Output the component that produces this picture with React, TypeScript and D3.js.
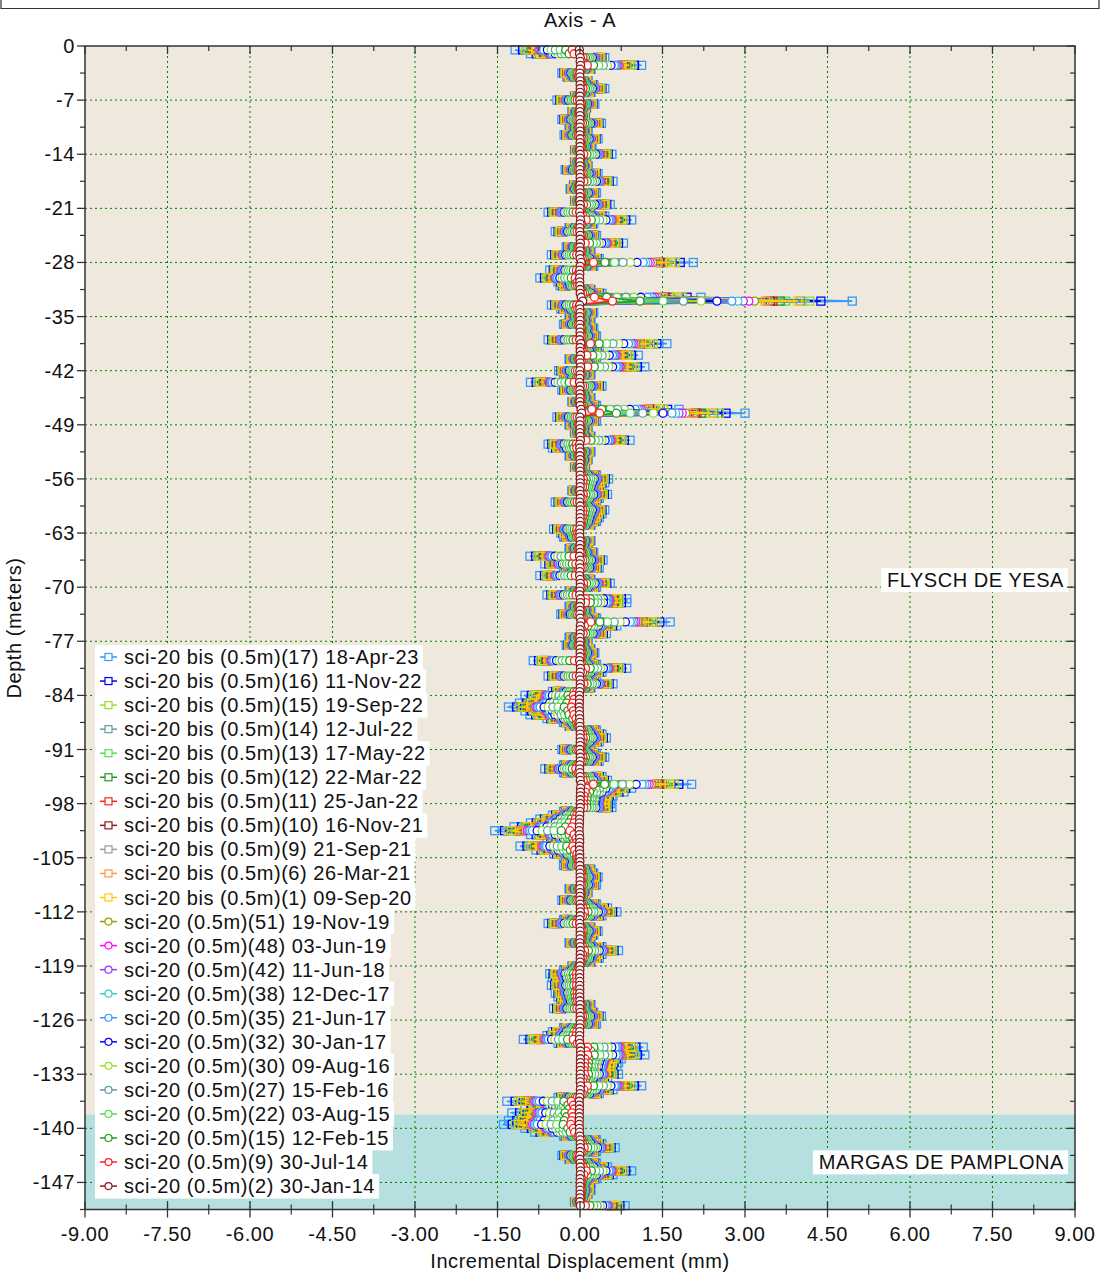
import * as d3 from 'd3';
import { useEffect, useRef } from 'react';

// readings, newest first (legend order)
const seriesNames = [
  'sci-20 bis (0.5m)(17) 18-Apr-23',
  'sci-20 bis (0.5m)(16) 11-Nov-22',
  'sci-20 bis (0.5m)(15) 19-Sep-22',
  'sci-20 bis (0.5m)(14) 12-Jul-22',
  'sci-20 bis (0.5m)(13) 17-May-22',
  'sci-20 bis (0.5m)(12) 22-Mar-22',
  'sci-20 bis (0.5m)(11) 25-Jan-22',
  'sci-20 bis (0.5m)(10) 16-Nov-21',
  'sci-20 bis (0.5m)(9) 21-Sep-21',
  'sci-20 bis (0.5m)(6) 26-Mar-21',
  'sci-20 bis (0.5m)(1) 09-Sep-20',
  'sci-20 (0.5m)(51) 19-Nov-19',
  'sci-20 (0.5m)(48) 03-Jun-19',
  'sci-20 (0.5m)(42) 11-Jun-18',
  'sci-20 (0.5m)(38) 12-Dec-17',
  'sci-20 (0.5m)(35) 21-Jun-17',
  'sci-20 (0.5m)(32) 30-Jan-17',
  'sci-20 (0.5m)(30) 09-Aug-16',
  'sci-20 (0.5m)(27) 15-Feb-16',
  'sci-20 (0.5m)(22) 03-Aug-15',
  'sci-20 (0.5m)(15) 12-Feb-15',
  'sci-20 (0.5m)(9) 30-Jul-14',
  'sci-20 (0.5m)(2) 30-Jan-14',
];

const seriesColors = [
  '#3399ff', '#0000ff', '#99dd22', '#5f9ea0', '#55dd55', '#229922', '#ff2020', '#8b1a1a',
  '#999999', '#ff9933', '#ffcc00', '#999900', '#ff00ff', '#9933ff', '#33cccc', '#3399ff',
  '#0000ff', '#99dd22', '#5f9ea0', '#55dd55', '#229922', '#ff2020', '#8b1a1a',
];

const seriesMarkers = [
  'square', 'square', 'square', 'square', 'square', 'square', 'square', 'square', 'square', 'square', 'square',
  'circle', 'circle', 'circle', 'circle', 'circle', 'circle', 'circle', 'circle', 'circle', 'circle', 'circle', 'circle',
];

// displacement of each reading at the -33 m shear zone (mm)
const peakAt33 = [
  4.95, 4.38, 4.18, 4.01, 3.74, 3.64, 3.51, 3.46, 3.42, 3.37, 3.96,
  3.17, 3.07, 2.97, 2.87, 2.76, 2.49, 2.2, 1.88, 1.51, 1.09, 0.59, 0.05,
];

// profile of the latest reading, every 0.5 m from -0.5 to -150 m (mm)
const profile = [
  -1.18, -0.9, 0.45, 0.3, 1.12, 0.2, -0.33, -0.24, 0.15, 0.25,
  0.45, 0.2, -0.1, -0.42, 0.27, 0.12, -0.15, 0.1, -0.33, 0.39,
  -0.2, 0.15, -0.29, 0.33, 0.1, 0.22, -0.1, 0.58, 0.12, -0.1,
  0.15, -0.27, 0.33, 0.2, 0.6, -0.12, -0.18, 0.3, 0.1, -0.1,
  0.55, 0.2, -0.58, 0.45, 0.94, 0.25, -0.2, -0.45, 0.3, 0.15,
  0.79, -0.25, 0.2, -0.52, 0.35, 2.06, 0.25, -0.55, -0.3, -0.73,
  -0.4, -0.36, 0.2, 0.4, 2.2, 4.95, -0.52, -0.35, 0.25, -0.2,
  0.2, -0.3, 0.25, 0.1, 0.3, -0.58, 1.58, 0.25, 0.35, 1.06,
  -0.2, 0.3, 1.18, -0.39, 0.2, -0.3, -0.9, 0.4, -0.33, 0.15,
  0.2, -0.15, 0.3, 1.8, 3.0, -0.42, 0.3, -0.2, 0.15, -0.1,
  0.2, 0.91, -0.58, -0.5, 0.2, -0.2, 0.15, 0.1, -0.1, 0.1,
  0.3, 0.52, 0.45, 0.4, -0.15, 0.5, 0.35, -0.45, 0.3, 0.45,
  0.4, 0.35, 0.3, 0.2, -0.48, -0.35, -0.3, 0.2, 0.15, -0.2,
  0.25, -0.91, 0.42, -0.64, 0.35, -0.3, -0.73, 0.2, 0.55, 0.3,
  -0.2, -0.6, 0.85, 0.85, -0.2, 0.2, -0.35, 0.3, 1.64, 0.67,
  0.3, 0.48, -0.2, 0.15, -0.25, 0.2, 0.27, 0.2, -0.85, 0.3,
  0.85, 0.4, -0.58, 0.3, 0.6, 0.2, -0.5, -1.0, -0.9, -1.1,
  -1.3, -1.0, -0.91, -0.6, -0.3, -0.2, 0.3, 0.4, 0.48, 0.35,
  0.2, -0.33, 0.3, 0.45, 0.35, -0.3, -0.64, -0.3, 0.4, 0.5,
  2.03, 0.94, 0.8, 0.6, 0.58, 0.55, 0.58, -0.3, -0.5, -0.73,
  -0.9, -1.2, -1.55, -0.9, -0.6, -0.5, -1.09, -0.8, -0.48, -0.3,
  -0.25, -0.3, 0.2, 0.25, 0.33, 0.2, 0.3, -0.2, 0.15, 0.1,
  -0.33, 0.3, 0.5, 0.67, 0.4, -0.3, -0.58, 0.2, 0.33, 0.25,
  0.2, -0.2, 0.4, 0.7, 0.4, 0.35, 0.2, -0.15, -0.3, -0.55,
  -0.5, -0.45, -0.52, -0.3, -0.45, -0.4, -0.35, 0.2, -0.48, 0.25,
  0.39, 0.2, 0.3, -0.3, -0.5, -0.6, -1.03, -0.4, 1.15, 0.9,
  1.18, 0.75, 0.7, 0.67, 0.6, 0.7, 0.5, 0.45, 1.12, 0.6,
  0.35, -0.4, -1.33, -1.0, -0.9, -1.24, -1.1, -1.3, -1.39, -1.0,
  -0.82, -0.3, 0.3, 0.4, 0.64, 0.3, -0.33, -0.2, 0.3, 0.5,
  0.94, 0.6, 0.3, 0.2, 0.15, 0.2, 0.15, 0.1, -0.1, 0.82,
];

const xTicks = [-9, -7.5, -6, -4.5, -3, -1.5, 0, 1.5, 3, 4.5, 6, 7.5, 9];
const yTicks = [0, -7, -14, -21, -28, -35, -42, -49, -56, -63, -70, -77, -84, -91, -98, -105, -112, -119, -126, -133, -140, -147];

const layerNames = ['FLYSCH DE YESA', 'MARGAS DE PAMPLONA'];
const layerTops = [0, -138.2];
const layerBottoms = [-138.2, -150.5];
const layerColors = ['#efe9dd', '#b5e0df'];
const layerLabelDepths = [-69.1, -144.4];

const FONT = '"Liberation Sans", Arial, sans-serif';
const FS = '20px';
const LS = '0.55px';

const App = () => {
  const ref = useRef<SVGSVGElement>(null);

  useEffect(() => {
    const width = 1100;
    const height = 1274;
    const left = 85, right = 1075, top = 46, bottom = 1209.5;

    const svg: any = d3.select(ref.current);
    svg.selectAll('*').remove();
    svg.attr('width', width).attr('height', height);

    const x = d3.scaleLinear().domain([-9, 9]).range([left, right]);
    const y = d3.scaleLinear().domain([0, -150.5]).range([top, bottom]);

    svg.append('rect').attr('width', width).attr('height', height).attr('fill', '#fff');

    // frame at very top
    svg.append('path').attr('d', 'M1,0V8.5H1099V0').attr('fill', 'none').attr('stroke', '#333').attr('stroke-width', 1.2);

    // layers
    layerNames.forEach((_, i) => {
      svg.append('rect')
        .attr('x', left).attr('width', right - left)
        .attr('y', y(layerTops[i])).attr('height', y(layerBottoms[i]) - y(layerTops[i]))
        .attr('fill', layerColors[i]);
    });

    // grid
    const grid = svg.append('g').attr('stroke', '#008000').attr('stroke-width', 1).attr('stroke-dasharray', '2,3');
    xTicks.slice(1, -1).forEach((t) => {
      grid.append('line').attr('x1', x(t)).attr('x2', x(t)).attr('y1', top).attr('y2', bottom);
    });
    yTicks.slice(1).forEach((t) => {
      grid.append('line').attr('x1', left).attr('x2', right).attr('y1', y(t)).attr('y2', y(t));
    });

    // layer labels
    layerNames.forEach((name, i) => {
      const g = svg.append('g');
      const box = g.append('rect').attr('fill', '#fff');
      const txt = g.append('text')
        .attr('x', 1064).attr('y', y(layerLabelDepths[i]))
        .attr('text-anchor', 'end').attr('dominant-baseline', 'central')
        .style('font-family', FONT).style('font-size', FS).style('letter-spacing', LS).attr('fill', '#111')
        .text(name);
      const bb = txt.node().getBBox();
      box.attr('x', bb.x - 6).attr('y', bb.y - 1).attr('width', bb.width + 10).attr('height', bb.height + 2);
    });

    // series
    const depths = profile.map((_, i) => -(i + 1) * 0.5);
    const line = d3.line<number>().x((d) => x(d)).y((_, i) => y(depths[i]));
    const plot = svg.append('g');
    seriesNames.forEach((_, s) => {
      const k = peakAt33[s] / peakAt33[0];
      const vals = profile.map((v) => v * k);
      const g = plot.append('g');
      g.append('path').attr('d', line(vals)).attr('fill', 'none')
        .attr('stroke', seriesColors[s]).attr('stroke-width', 1.6);
      if (seriesMarkers[s] === 'square') {
        g.selectAll('rect').data(vals).enter().append('rect')
          .attr('x', (d: number) => x(d) - 4).attr('y', (_: any, i: number) => y(depths[i]) - 4)
          .attr('width', 8).attr('height', 8)
          .attr('fill', 'none').attr('stroke', seriesColors[s]).attr('stroke-width', 1.3);
      } else {
        g.selectAll('circle').data(vals).enter().append('circle')
          .attr('cx', (d: number) => x(d)).attr('cy', (_: any, i: number) => y(depths[i]))
          .attr('r', 4)
          .attr('fill', '#fff').attr('stroke', seriesColors[s]).attr('stroke-width', 1.3);
      }
    });

    // frame + ticks
    const axis = svg.append('g').attr('stroke', '#333');
    axis.append('rect').attr('x', left).attr('y', top).attr('width', right - left).attr('height', bottom - top)
      .attr('fill', 'none').attr('stroke-width', 1.5);
    const xMinor = xTicks.slice(0, -1).map((t) => t + 0.75);
    xTicks.forEach((t) => {
      axis.append('line').attr('x1', x(t)).attr('x2', x(t)).attr('y1', top).attr('y2', top + 8).attr('stroke-width', 1.3);
      axis.append('line').attr('x1', x(t)).attr('x2', x(t)).attr('y1', bottom - 8).attr('y2', bottom + 8).attr('stroke-width', 1.3);
    });
    xMinor.forEach((t) => {
      axis.append('line').attr('x1', x(t)).attr('x2', x(t)).attr('y1', top).attr('y2', top + 5).attr('stroke-width', 1.2);
      axis.append('line').attr('x1', x(t)).attr('x2', x(t)).attr('y1', bottom - 5).attr('y2', bottom + 5).attr('stroke-width', 1.2);
    });
    const yMinor = yTicks.map((t) => t - 3.5);
    yTicks.forEach((t) => {
      axis.append('line').attr('x1', left - 8).attr('x2', left).attr('y1', y(t)).attr('y2', y(t)).attr('stroke-width', 1.3);
      axis.append('line').attr('x1', right - 8).attr('x2', right).attr('y1', y(t)).attr('y2', y(t)).attr('stroke-width', 1.3);
    });
    yMinor.forEach((t) => {
      axis.append('line').attr('x1', left - 5).attr('x2', left).attr('y1', y(t)).attr('y2', y(t)).attr('stroke-width', 1.2);
      axis.append('line').attr('x1', right - 5).attr('x2', right).attr('y1', y(t)).attr('y2', y(t)).attr('stroke-width', 1.2);
    });

    // tick labels
    const labels = svg.append('g').style('font-family', FONT).style('font-size', FS)
      .style('letter-spacing', LS).attr('fill', '#111');
    xTicks.forEach((t) => {
      labels.append('text').attr('x', x(t)).attr('y', bottom + 24)
        .attr('text-anchor', 'middle').attr('dominant-baseline', 'central').text(t.toFixed(2));
    });
    yTicks.forEach((t) => {
      labels.append('text').attr('x', 75).attr('y', y(t))
        .attr('text-anchor', 'end').attr('dominant-baseline', 'central').text(String(t));
    });
    labels.append('text').attr('x', 580).attr('y', 20).attr('text-anchor', 'middle')
      .attr('dominant-baseline', 'central').text('Axis - A');
    labels.append('text').attr('x', 580).attr('y', 1261).attr('text-anchor', 'middle')
      .attr('dominant-baseline', 'central').text('Incremental Displacement (mm)');
    labels.append('text').attr('transform', 'translate(14,628) rotate(-90)').attr('text-anchor', 'middle')
      .attr('dominant-baseline', 'central').text('Depth (meters)');

    // legend
    const legend = svg.append('g');
    seriesNames.forEach((name, i) => {
      const cy = 657 + i * 24.05;
      const row = legend.append('g');
      const bg = row.append('rect').attr('fill', '#fff');
      row.append('line').attr('x1', 100).attr('x2', 117).attr('y1', cy).attr('y2', cy)
        .attr('stroke', seriesColors[i]).attr('stroke-width', 1.5);
      if (seriesMarkers[i] === 'square') {
        row.append('rect').attr('x', 105).attr('y', cy - 3.5).attr('width', 7).attr('height', 7)
          .attr('fill', '#fff').attr('stroke', seriesColors[i]).attr('stroke-width', 1.2);
      } else {
        row.append('circle').attr('cx', 108.5).attr('cy', cy).attr('r', 3.5)
          .attr('fill', '#fff').attr('stroke', seriesColors[i]).attr('stroke-width', 1.2);
      }
      const txt = row.append('text').attr('x', 124).attr('y', cy)
        .attr('dominant-baseline', 'central')
        .style('font-family', FONT).style('font-size', FS).style('letter-spacing', LS).attr('fill', '#111')
        .text(name);
      const w = txt.node().getComputedTextLength();
      bg.attr('x', 95).attr('y', cy - 12).attr('width', 124 + w + 4 - 95).attr('height', 24.5);
    });
  }, []);

  return (
    <svg ref={ref} style={{ position: 'absolute', left: 0, top: 0, display: 'block' }} />
  );
};

export default App;
